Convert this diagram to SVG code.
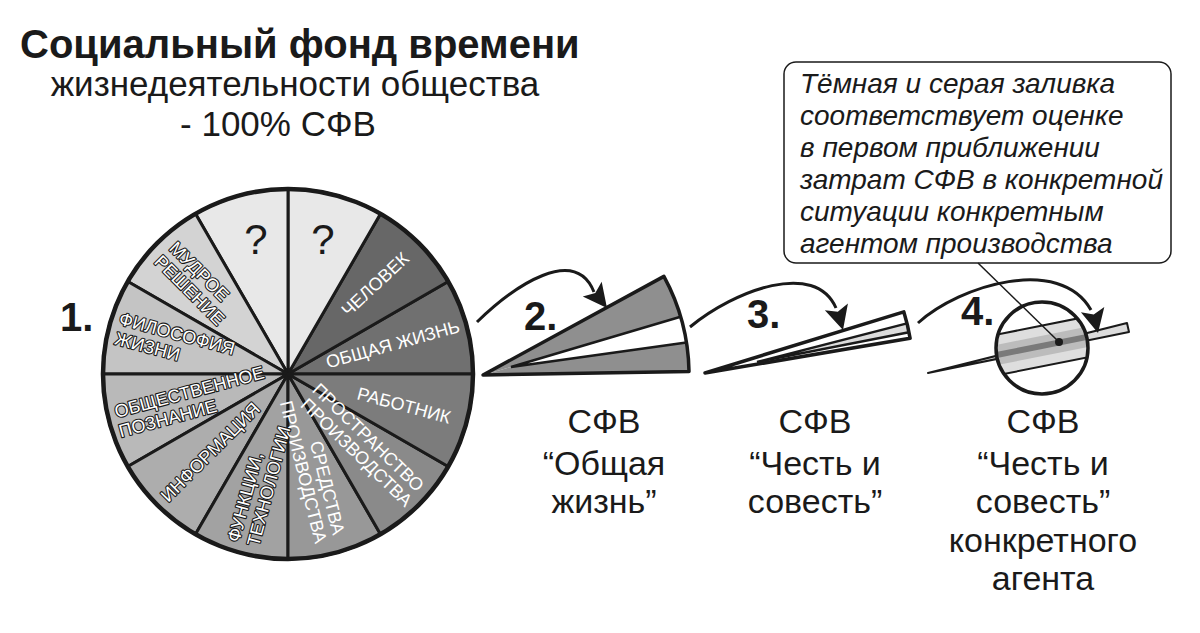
<svg xmlns="http://www.w3.org/2000/svg" width="1200" height="633" viewBox="0 0 1200 633">
<style>
text{font-family:"Liberation Sans",Arial,sans-serif;fill:#1a1a1a}
.title{font-size:40px;font-weight:bold}
.sub{font-size:35px}
.num{font-size:40px;font-weight:bold}
.cap{font-size:34px;text-anchor:middle}
.note{font-size:28px;font-style:italic}
.q{font-size:42px;text-anchor:middle}
.lbl{font-size:18px}
.w{fill:#fff}
.ol{fill:#fff;stroke:#1a1a1a;stroke-width:2.2px;paint-order:stroke;stroke-linejoin:round}
.e{text-anchor:end}
.sec{stroke:#1a1a1a;stroke-width:3;stroke-linejoin:round}
.edge{fill:none;stroke:#1a1a1a;stroke-width:3.5;stroke-linejoin:round}
.thin{fill:none;stroke:#1a1a1a;stroke-width:2.5}
.arc{fill:none;stroke:#1a1a1a;stroke-width:3}
</style>
<defs>
<path id="ah" d="M0,0 L-24,-12 L-19,0 L-24,12 Z" fill="#1a1a1a"/>
<clipPath id="lens"><circle cx="1042" cy="348" r="46"/></clipPath>
</defs>
<rect width="1200" height="633" fill="#fff"/>

<g id="title">
<text class="title" x="20" y="58">Социальный фонд времени</text>
<text class="sub" x="295" y="96" text-anchor="middle">жизнедеятельности общества</text>
<text class="sub" x="278" y="136" text-anchor="middle">- 100% СФВ</text>
</g>

<g id="pie">
<path class="sec" fill="#707070" d="M288,374 L473,374 A185,185 0 0 0 448.2,281.5 Z"/>
<path class="sec" fill="#676767" d="M288,374 L448.2,281.5 A185,185 0 0 0 380.5,213.8 Z"/>
<path class="sec" fill="#e8e8e8" d="M288,374 L380.5,213.8 A185,185 0 0 0 288,189 Z"/>
<path class="sec" fill="#e8e8e8" d="M288,374 L288,189 A185,185 0 0 0 195.5,213.8 Z"/>
<path class="sec" fill="#d3d3d3" d="M288,374 L195.5,213.8 A185,185 0 0 0 127.8,281.5 Z"/>
<path class="sec" fill="#c4c4c4" d="M288,374 L127.8,281.5 A185,185 0 0 0 103,374 Z"/>
<path class="sec" fill="#b9b9b9" d="M288,374 L103,374 A185,185 0 0 0 127.8,466.5 Z"/>
<path class="sec" fill="#adadad" d="M288,374 L127.8,466.5 A185,185 0 0 0 195.5,534.2 Z"/>
<path class="sec" fill="#a2a2a2" d="M288,374 L195.5,534.2 A185,185 0 0 0 288,559 Z"/>
<path class="sec" fill="#989898" d="M288,374 L288,559 A185,185 0 0 0 380.5,534.2 Z"/>
<path class="sec" fill="#8a8a8a" d="M288,374 L380.5,534.2 A185,185 0 0 0 448.2,466.5 Z"/>
<path class="sec" fill="#7c7c7c" d="M288,374 L448.2,466.5 A185,185 0 0 0 473,374 Z"/>
<circle cx="288" cy="374" r="185" fill="none" stroke="#1a1a1a" stroke-width="4.5"/>
<text class="q" x="256" y="254">?</text>
<text class="q" x="323" y="254">?</text>
<g class="lbl">
<g transform="translate(288,374) rotate(-43)"><text class="lbl w e" x="167" y="0">ЧЕЛОВЕК</text></g>
<g transform="translate(288,374) rotate(-15.5)"><text class="lbl w e" x="178" y="5.5">ОБЩАЯ ЖИЗНЬ</text></g>
<g transform="translate(288,374) rotate(15)"><text class="lbl w e" x="168" y="6.5">РАБОТНИК</text></g>
<g transform="translate(288,374) rotate(44)"><text class="lbl w e" x="175" y="-4">ПРОСТРАНСТВО</text><text class="lbl w e" x="177" y="15">ПРОИЗВОДСТВА</text></g>
<g transform="translate(288,374) rotate(76)"><text class="lbl w e" x="168" y="-4.5">СРЕДСТВА</text><text class="lbl w e" x="172" y="15">ПРОИЗВОДСТВА</text></g>
<g transform="translate(288,374) rotate(-75)"><text class="lbl ol" x="-176" y="-3.5">ФУНКЦИИ,</text><text class="lbl ol" x="-175" y="16.5">ТЕХНОЛОГИИ</text></g>
<g transform="translate(288,374) rotate(-45)"><text class="lbl ol" x="-176" y="6.5">ИНФОРМАЦИЯ</text></g>
<g transform="translate(288,374) rotate(-15)"><text class="lbl ol" x="-177" y="-2">ОБЩЕСТВЕННОЕ</text><text class="lbl ol" x="-178" y="18">ПОЗНАНИЕ</text></g>
<g transform="translate(288,374) rotate(15)"><text class="lbl ol" x="-177" y="-4">ФИЛОСОФИЯ</text><text class="lbl ol" x="-176" y="16">ЖИЗНИ</text></g>
<g transform="translate(288,374) rotate(45)"><text class="lbl ol" x="-173" y="-3.5">МУДРОЕ</text><text class="lbl ol" x="-174" y="16.5">РЕШЕНИЕ</text></g>
</g>
<text class="num" x="60" y="331">1.</text>
</g>

<g id="wedge2">
<path fill="#8f8f8f" d="M483,375 L663.9,276.4 A206,206 0 0 1 680.6,316.8 L511,367 Z"/>
<path fill="#fff" d="M511,367 L680.6,316.8 A206,206 0 0 1 686.4,342.4 Z"/>
<path fill="#8f8f8f" d="M483,375 L511,367 L686.4,342.4 A206,206 0 0 1 689,371.4 Z"/>
<path class="thin" d="M680.6,316.8 L511,367 L686.4,342.4"/>
<path class="edge" d="M483,375 L663.9,276.4 A206,206 0 0 1 689,371.4 Z"/>
<text class="num" x="524" y="330">2.</text>
</g>

<g id="wedge3">
<path fill="#fff" d="M705,373 L903.8,311.8 A208,208 0 0 1 910.1,338.3 Z"/>
<path fill="#dcdcdc" d="M757,362 L907,323.4 A208,208 0 0 1 909,332.2 Z"/>
<path class="thin" stroke-width="2" d="M907,323.4 L757,362 L909,332.2"/>
<path class="edge" d="M705,373 L903.8,311.8 A208,208 0 0 1 910.1,338.3 Z"/>
<text class="num" x="747" y="328">3.</text>
</g>

<g id="wedge4">
<path fill="#dcdcdc" stroke="#1a1a1a" stroke-width="2" stroke-linejoin="round" d="M928,373 L1127,323 L1129,332 Z"/>
<circle cx="1042" cy="348" r="46" fill="#fff"/>
<g clip-path="url(#lens)">
<g transform="rotate(-11.3 1042 348)">
<rect x="980" y="326" width="130" height="40" fill="#dedede"/>
<rect x="980" y="336" width="130" height="20" fill="#bcbcbc"/>
<rect x="980" y="343" width="130" height="6" fill="#7a7a7a"/>
<path d="M980,326 H1110 M980,366 H1110" stroke="#1a1a1a" stroke-width="2"/>
</g>
</g>
<circle cx="1042" cy="348" r="46" fill="none" stroke="#1a1a1a" stroke-width="3.5"/>
<text class="num" x="961" y="325">4.</text>
</g>

<g id="note">
<rect x="784" y="62" width="387" height="201" rx="12" fill="#fff" stroke="#1a1a1a" stroke-width="1.5"/>
<text class="note" x="800" y="93">Тёмная и серая заливка</text>
<text class="note" x="800" y="125">соответствует оценке</text>
<text class="note" x="800" y="157">в первом приближении</text>
<text class="note" x="800" y="189">затрат СФВ в конкретной</text>
<text class="note" x="800" y="221">ситуации конкретным</text>
<text class="note" x="800" y="253">агентом производства</text>
</g>

<g id="captions">
<text class="cap" x="604" y="433">СФВ</text>
<text class="cap" x="604" y="475">“Общая</text>
<text class="cap" x="604" y="513">жизнь”</text>
<text class="cap" x="815" y="433">СФВ</text>
<text class="cap" x="815" y="475">“Честь и</text>
<text class="cap" x="815" y="513">совесть”</text>
<text class="cap" x="1043" y="433">СФВ</text>
<text class="cap" x="1043" y="475">“Честь и</text>
<text class="cap" x="1043" y="513">совесть”</text>
<text class="cap" x="1043" y="552">конкретного</text>
<text class="cap" x="1043" y="590">агента</text>
</g>

<g id="connectors">
<path class="arc" d="M477,322 C515,285 575,245 594,292"/>
<use href="#ah" transform="translate(607,308) rotate(52)"/>
<path class="arc" d="M690,327 C735,290 815,260 836,308"/>
<use href="#ah" transform="translate(843,330) rotate(74)"/>
<path class="arc" d="M918,323 C960,285 1060,255 1091,310"/>
<use href="#ah" transform="translate(1098,333) rotate(77)"/>
<line x1="978" y1="263" x2="1059" y2="342" stroke="#1a1a1a" stroke-width="1.5"/>
<circle cx="1059" cy="342" r="4" fill="#1a1a1a"/>
</g>
</svg>
